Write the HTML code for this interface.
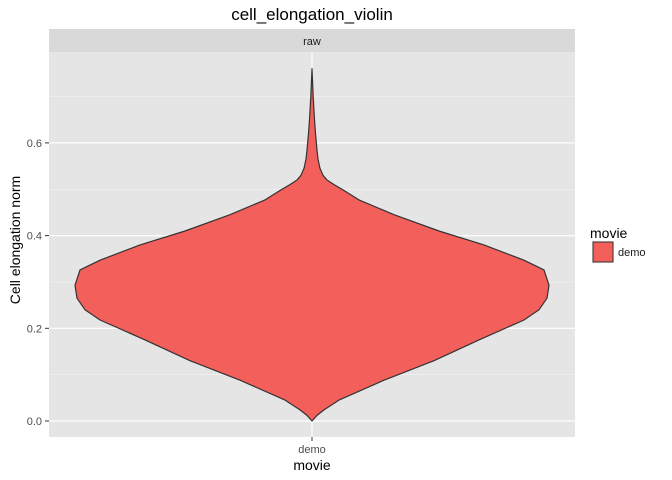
<!DOCTYPE html>
<html><head><meta charset="utf-8"><style>body{margin:0;background:#fff}svg{display:block;font-family:"Liberation Sans",sans-serif}</style></head>
<body>
<svg id="c" width="672" height="480">
<rect x="0" y="0" width="672" height="480" fill="#fff"/>
<text x="312" y="20" text-anchor="middle" font-size="17" fill="#000">cell_elongation_violin</text>
<rect x="49" y="29" width="526" height="23" fill="#d9d9d9"/>
<text x="312" y="45" text-anchor="middle" font-size="11" fill="#1a1a1a">raw</text>
<rect x="49" y="52" width="526" height="385" fill="#e5e5e5"/>
<g id="grid"></g>
<g id="marks"></g>
<g id="axes"></g>
<text x="312" y="470" text-anchor="middle" font-size="14" fill="#000">movie</text>
<text transform="translate(20,240) rotate(-90)" text-anchor="middle" font-size="14" fill="#000">Cell elongation norm</text>
<text x="590" y="238" font-size="14" fill="#000">movie</text>
<rect x="592" y="241" width="22" height="22" fill="#f2f2f2"/>
<rect x="593" y="242" width="20" height="20" fill="#f35f5b" stroke="#333" stroke-width="1"/>
<text x="618" y="256" font-size="11" fill="#1a1a1a">demo</text>
</svg>
<script>
const categories=["demo"];
const yTicks=[0,0.2,0.4,0.6];
const yTickLabels=["0.0","0.2","0.4","0.6"];
const densityY=[0,0.012,0.024,0.045,0.088,0.13,0.175,0.218,0.24,0.265,0.293,0.326,0.347,0.38,0.41,0.445,0.477,0.5,0.51,0.52,0.53,0.545,0.565,0.585,0.62,0.65,0.7,0.76];
const densityW=[0,5,12,27,72,122,167,212,227,235,237,232,212,172,127,82,47,30,22,15,11,8,6,5,3.5,2.5,1.2,0];
const NS="http://www.w3.org/2000/svg";
const yS=v=>421-v*463.5;
const xS=i=>49+526*(i+0.5)/categories.length;
const wMax=Math.max(...densityW);
const halfW=d=>237*d/wMax;
const grid=document.getElementById('grid'),marks=document.getElementById('marks'),axes=document.getElementById('axes');
function mk(t,a,p){const e=document.createElementNS(NS,t);for(const k in a)e.setAttribute(k,a[k]);p.appendChild(e);return e;}
for(let i=0;i<yTicks.length-1;i++){const m=(yTicks[i]+yTicks[i+1])/2;
const g=mk('line',{x1:49,x2:575,y1:yS(m),y2:yS(m),stroke:'#f2f2f2','stroke-width':0.6},grid);

}
{const m=yTicks[yTicks.length-1]+0.1;const g=mk('line',{x1:49,x2:575,y1:yS(m),y2:yS(m),stroke:'#f2f2f2','stroke-width':0.6},grid);

}
yTicks.forEach((v,i)=>{const g=mk('line',{x1:49,x2:575,y1:yS(v),y2:yS(v),stroke:'#fff','stroke-width':1.2},grid);


const t=mk('line',{x1:45,x2:49,y1:yS(v),y2:yS(v),stroke:'#333'},axes);


const l=mk('text',{x:42,y:yS(v)+4,'text-anchor':'end','font-size':11,fill:'#4d4d4d'},axes);l.textContent=yTickLabels[i];

});
categories.forEach((c,i)=>{const x=xS(i);
const g=mk('line',{x1:x,x2:x,y1:52,y2:437,stroke:'#fff','stroke-width':1.2},grid);


const t=mk('line',{x1:x,x2:x,y1:437,y2:441,stroke:'#333'},axes);


const l=mk('text',{x:x,y:453,'text-anchor':'middle','font-size':11,fill:'#4d4d4d'},axes);l.textContent=c;


let pts=[];
for(let k=0;k<densityY.length;k++)pts.push([x-halfW(densityW[k]),yS(densityY[k])]);
for(let k=densityY.length-1;k>=0;k--)pts.push([x+halfW(densityW[k]),yS(densityY[k])]);
const d='M'+pts.map(p=>p[0].toFixed(1)+','+p[1].toFixed(1)).join('L')+'Z';
const v=mk('path',{d:d,fill:'#f35f5b',stroke:'#333','stroke-width':1.2,'stroke-linejoin':'round'},marks);

});
</script>
</body></html>
